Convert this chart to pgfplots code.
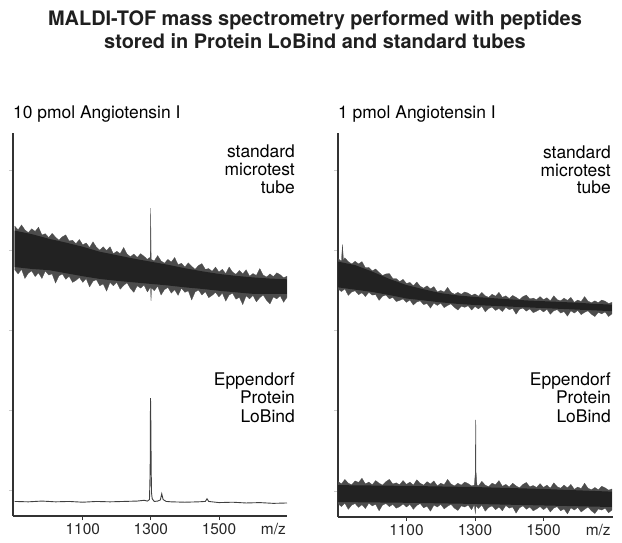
\documentclass[border=0pt]{standalone}
\usepackage{pgfplots}
\pgfplotsset{compat=1.18}
\usepackage{fontspec}
\setmainfont{TeX Gyre Heros}
\definecolor{fuzz}{HTML}{4C4C4C}
\definecolor{core}{HTML}{222222}
\definecolor{axl}{HTML}{333333}
\pgfplotsset{
  spec/.style={
    scale only axis, anchor=south west,
    ymin=0, ymax=100,
    axis lines*=left,
    axis line style={line width=1.1pt, axl},
    no markers,
    xtick={1100,1300,1500},
    xticklabels={1100,1300,1500},
    extra x ticks={1660},
    extra x tick labels={m/z},
    extra x tick style={major tick style={draw=none}},
    ytick={6.8,27.7,48.6,69.5,90.3},
    yticklabels={},
    tick align=outside,
    major tick length=4bp,
    x tick style={axl, line width=0.8pt},
    y tick style={black!20, line width=0.6pt},
    x tick label style={font=\fontsize{15.5}{16}\selectfont, text=black!85},
    /pgf/number format/assume math mode=true,
    clip=false,
  }
}
\begin{document}
\begin{tikzpicture}
\useasboundingbox (0,0) rectangle (622bp,543bp);
% titles
\node[anchor=base, font=\bfseries\fontsize{20}{22}\selectfont, text=black!88] at (315bp,517bp) {MALDI-TOF mass spectrometry performed with peptides};
\node[anchor=base, font=\bfseries\fontsize{20}{22}\selectfont, text=black!88] at (315bp,494.5bp) {stored in Protein LoBind and standard tubes};
\node[anchor=base west, inner sep=0pt, font=\fontsize{17.5}{18}\selectfont] at (13bp,424.5bp) {10 pmol Angiotensin I};
\node[anchor=base west, inner sep=0pt, font=\fontsize{17.5}{18}\selectfont] at (338bp,424.5bp) {1 pmol Angiotensin I};
% ---------------- left panel ----------------
\begin{axis}[spec, at={(13bp,27bp)}, width=274bp, height=383bp, xmin=895, xmax=1700]
% standard tube: noise envelope
\addplot[fill=fuzz, draw=fuzz, line width=0.25pt] coordinates {
(900,75.7) (910,74.7) (920,76.0) (930,74.7) (940,74.0) (950,75.0) (960,74.3) (970,75.4) (980,73.4) (990,73.7)
(1000,72.7) (1010,73.8) (1020,72.8) (1030,72.0) (1040,72.9) (1050,73.4) (1060,71.8) (1070,72.0) (1080,71.1) (1090,72.2)
(1100,70.8) (1110,71.3) (1120,70.1) (1130,71.6) (1140,70.2) (1150,69.4) (1160,70.3) (1170,69.3) (1180,70.3) (1190,68.5)
(1200,69.1) (1210,68.5) (1220,70.1) (1230,68.4) (1240,67.7) (1250,68.4) (1260,67.5) (1270,68.5) (1280,67.8) (1290,67.0)
(1296,67.5) (1298,67.0) (1299.5,80.4) (1301,67.0)
(1310,66.6) (1320,68.0) (1330,66.6) (1340,66.0) (1350,67.0) (1360,66.3) (1370,67.5) (1380,65.6) (1390,66.0)
(1400,65.0) (1410,66.1) (1420,65.2) (1430,64.4) (1440,65.4) (1450,65.9) (1460,64.4) (1470,64.6) (1480,63.9) (1490,65.0)
(1500,63.7) (1510,64.4) (1520,63.3) (1530,65.0) (1540,63.7) (1550,63.1) (1560,64.1) (1570,63.2) (1580,64.3) (1590,62.6)
(1600,63.3) (1610,62.8) (1620,64.6) (1630,62.9) (1640,62.4) (1650,63.2) (1660,62.5) (1670,63.5) (1680,63.0) (1690,62.2) (1700,62.6)
(1700,57.1) (1690,55.8) (1680,57.5) (1670,56.7) (1660,57.2) (1650,55.4) (1640,56.3) (1630,57.7) (1620,57.0) (1610,55.9)
(1600,57.6) (1590,56.7) (1580,57.5) (1570,55.2) (1560,57.1) (1550,56.6) (1540,58.2) (1530,57.7) (1520,56.1) (1510,58.2)
(1500,57.2) (1490,58.4) (1480,57.6) (1470,57.0) (1460,58.6) (1450,57.7) (1440,59.0) (1430,58.5) (1420,56.4) (1410,58.8)
(1400,58.4) (1390,59.5) (1380,57.6) (1370,59.1) (1360,58.2) (1350,59.7) (1340,59.1) (1330,57.7) (1320,60.0) (1310,58.8)
(1302,59.6) (1300.5,56.2) (1299,59.8)
(1290,58.5) (1280,60.3) (1270,59.5) (1260,60.1) (1250,58.4) (1240,59.4) (1230,60.9) (1220,60.2) (1210,59.2) (1200,61.0)
(1190,60.1) (1180,61.0) (1170,58.7) (1160,60.6) (1150,60.1) (1140,61.7) (1130,61.3) (1120,59.8) (1110,62.0) (1100,61.0)
(1090,62.3) (1080,61.5) (1070,61.0) (1060,62.6) (1050,61.8) (1040,63.2) (1030,62.7) (1020,60.8) (1010,63.2) (1000,62.9)
(990,64.0) (980,62.0) (970,63.5) (960,62.5) (950,64.0) (940,63.4) (930,62.0) (920,64.4) (910,63.2) (900,64.3)
};
% standard tube: dense core
\addplot[fill=core, draw=none] coordinates {
(900,74.5) (950,73.6) (1000,72.4) (1050,71.4) (1100,70.3) (1150,69.0) (1200,68.1) (1250,67.2)
(1300,66.4) (1350,65.6) (1400,64.7) (1450,63.9) (1500,63.2) (1550,62.7) (1600,62.3) (1650,62.0) (1700,61.8)
(1700,58.0) (1650,58.0) (1600,58.0) (1550,58.4) (1500,58.8) (1450,59.3) (1400,59.7) (1350,60.2)
(1300,60.6) (1250,61.0) (1200,61.4) (1150,61.9) (1100,62.6) (1050,63.4) (1000,64.2) (950,64.5) (900,65.0)
};
% Protein LoBind
\addplot[black!75, line width=0.9pt] coordinates {
(900,3.8) (940,3.7) (980,3.9) (1020,3.7) (1060,3.8) (1100,3.6) (1140,3.8) (1180,3.7) (1220,3.8)
(1260,3.9) (1280,4.1) (1290,3.9) (1296,4.3) (1298,12) (1299,30.8) (1300,24) (1301,12) (1302,6)
(1304,4.5) (1310,3.8) (1320,3.9) (1328,4.2) (1332,5.8) (1336,4.3) (1345,3.8) (1360,3.7) (1400,3.6)
(1440,3.7) (1460,3.8) (1465,4.5) (1470,3.8) (1500,3.5) (1540,3.6) (1580,3.4) (1620,3.5) (1660,3.3) (1700,3.4)
};
\end{axis}
\node[anchor=base east, inner sep=0pt, font=\fontsize{17.5}{18}\selectfont] at (295bp,385bp) {standard};
\node[anchor=base east, inner sep=0pt, font=\fontsize{17.5}{18}\selectfont] at (295bp,367bp) {microtest};
\node[anchor=base east, inner sep=0pt, font=\fontsize{17.5}{18}\selectfont] at (295bp,349bp) {tube};
\node[anchor=base east, inner sep=0pt, font=\fontsize{17.5}{18}\selectfont] at (295bp,157.5bp) {Eppendorf};
\node[anchor=base east, inner sep=0pt, font=\fontsize{17.5}{18}\selectfont] at (295bp,139bp) {Protein};
\node[anchor=base east, inner sep=0pt, font=\fontsize{17.5}{18}\selectfont] at (295bp,120bp) {LoBind};
% ---------------- right panel ----------------
\begin{axis}[spec, at={(338bp,26bp)}, width=275bp, height=384bp, xmin=900, xmax=1703]
\addplot[fill=fuzz, draw=fuzz, line width=0.25pt] coordinates {
(900,67.3) (910,66.6) (913,71.0) (916,66.8) (920,67.5) (930,66.5) (940,65.9) (950,66.6) (960,65.9) (970,66.5) (980,64.9) (990,65.0)
(1000,64.1) (1010,64.6) (1020,63.7) (1030,62.9) (1040,63.3) (1050,63.4) (1060,62.1) (1070,62.1) (1080,61.3) (1090,61.9)
(1100,60.8) (1110,61.1) (1120,60.2) (1130,61.2) (1140,60.1) (1150,59.6) (1160,60.2) (1170,59.4) (1180,60.0) (1190,58.6)
(1200,59.0) (1210,58.6) (1220,59.8) (1230,58.5) (1240,58.0) (1250,58.5) (1260,58.0) (1270,58.6) (1280,58.3) (1290,57.7)
(1300,58.1) (1310,57.5) (1320,58.5) (1330,57.6) (1340,57.2) (1350,58.0) (1360,57.5) (1370,58.5) (1380,57.2) (1390,57.6)
(1400,56.9) (1410,57.7) (1420,57.2) (1430,56.6) (1440,57.4) (1450,57.8) (1460,56.8) (1470,57.0) (1480,56.6) (1490,57.4)
(1500,56.6) (1510,57.1) (1520,56.3) (1530,57.6) (1540,56.6) (1550,56.3) (1560,57.0) (1570,56.4) (1580,57.2) (1590,55.9)
(1600,56.5) (1610,56.1) (1620,57.4) (1630,56.2) (1640,55.8) (1650,56.3) (1660,55.8) (1670,56.5) (1680,56.2) (1690,55.6) (1700,55.9)
(1700,52.9) (1690,52.2) (1680,53.4) (1670,52.9) (1660,53.3) (1650,52.2) (1640,52.8) (1630,53.7) (1620,53.3) (1610,52.7)
(1600,53.8) (1590,53.1) (1580,53.7) (1570,52.3) (1560,53.5) (1550,53.1) (1540,54.0) (1530,53.7) (1520,52.8) (1510,54.1)
(1500,53.4) (1490,54.1) (1480,53.6) (1470,53.2) (1460,54.2) (1450,53.6) (1440,54.4) (1430,54.1) (1420,52.8) (1410,54.3)
(1400,54.0) (1390,54.6) (1380,53.5) (1370,54.3) (1360,53.8) (1350,54.7) (1340,54.3) (1330,53.4) (1320,54.9) (1310,54.2)
(1300,54.8) (1290,53.9) (1280,55.0) (1270,54.6) (1260,54.9) (1250,53.9) (1240,54.6) (1230,55.5) (1220,55.1) (1210,54.5)
(1200,55.7) (1190,55.1) (1180,55.7) (1170,54.4) (1160,55.6) (1150,55.3) (1140,56.3) (1130,56.0) (1120,55.2) (1110,56.5)
(1100,55.9) (1090,56.8) (1080,56.4) (1070,56.1) (1060,57.2) (1050,56.8) (1040,57.8) (1030,57.5) (1020,56.4) (1010,57.9)
(1000,57.8) (990,58.5) (980,57.4) (970,58.4) (960,57.9) (950,58.9) (940,58.6) (930,57.7) (920,59.4) (910,58.7) (900,59.4)
};
\addplot[fill=core, draw=none] coordinates {
(900,66.5) (950,65.6) (1000,63.9) (1050,62.0) (1100,60.4) (1150,59.3) (1200,58.3) (1250,57.7)
(1300,57.3) (1350,57.0) (1400,56.7) (1450,56.4) (1500,56.2) (1550,56.0) (1600,55.8) (1650,55.5) (1700,55.3)
(1700,53.6) (1650,53.8) (1600,54.0) (1550,54.2) (1500,54.4) (1450,54.6) (1400,54.8) (1350,55.0)
(1300,55.2) (1250,55.5) (1200,55.9) (1150,56.4) (1100,56.9) (1050,57.8) (1000,58.6) (950,59.2) (900,59.8)
};
% Protein LoBind (1 pmol)
\addplot[fill=fuzz, draw=fuzz, line width=0.25pt] coordinates {
(900,9.3) (910,8.6) (920,9.8) (930,8.8) (940,8.4) (950,9.4) (960,9.0) (970,10.1) (980,8.6) (990,9.1)
(1000,8.4) (1010,9.5) (1020,8.8) (1030,8.3) (1040,9.2) (1050,9.8) (1060,8.6) (1070,8.9) (1080,8.4) (1090,9.5)
(1100,8.5) (1110,9.1) (1120,8.3) (1130,9.7) (1140,8.8) (1150,8.3) (1160,9.2) (1170,8.6) (1180,9.4) (1190,8.1)
(1200,8.8) (1210,8.4) (1220,9.8) (1230,8.6) (1240,8.1) (1250,8.8) (1260,8.3) (1270,9.1) (1280,8.7) (1290,8.1)
(1298,8.3) (1300,10.5) (1302,12.5) (1304,10.0) (1306,8.3)
(1310,8.1) (1320,9.3) (1330,8.3) (1340,7.9) (1350,8.8) (1360,8.4) (1370,9.5) (1380,8.0) (1390,8.5)
(1400,7.8) (1410,8.8) (1420,8.1) (1430,7.6) (1440,8.5) (1450,9.0) (1460,7.9) (1470,8.2) (1480,7.7) (1490,8.7)
(1500,7.7) (1510,8.3) (1520,7.5) (1530,8.9) (1540,7.9) (1550,7.5) (1560,8.3) (1570,7.6) (1580,8.5) (1590,7.2)
(1600,7.8) (1610,7.4) (1620,8.8) (1630,7.5) (1640,7.1) (1650,7.7) (1660,7.1) (1670,8.0) (1680,7.6) (1690,7.0) (1700,7.3)
(1700,1.8) (1690,1.1) (1680,2.3) (1670,1.8) (1660,2.1) (1650,0.9) (1640,1.6) (1630,2.6) (1620,2.0) (1610,1.3)
(1600,2.5) (1590,1.8) (1580,2.4) (1570,0.8) (1560,2.1) (1550,1.6) (1540,2.7) (1530,2.3) (1520,1.3) (1510,2.6)
(1500,1.9) (1490,2.7) (1480,2.1) (1470,1.6) (1460,2.6) (1450,2.0) (1440,2.9) (1430,2.4) (1420,1.0) (1410,2.6)
(1400,2.3) (1390,3.0) (1380,1.6) (1370,2.6) (1360,1.9) (1350,2.9) (1340,2.5) (1330,1.5) (1320,3.1) (1310,2.2)
(1303,3.0) (1301,0.9) (1298,3.2)
(1290,1.9) (1280,3.1) (1270,2.6) (1260,2.9) (1250,1.7) (1240,2.3) (1230,3.3) (1220,2.8) (1210,2.1) (1200,3.3)
(1190,2.6) (1180,3.1) (1170,1.5) (1160,2.8) (1150,2.4) (1140,3.5) (1130,3.0) (1120,2.0) (1110,3.3) (1100,2.6)
(1090,3.4) (1080,2.7) (1070,2.3) (1060,3.3) (1050,2.7) (1040,3.5) (1030,3.1) (1020,1.6) (1010,3.3) (1000,2.9)
(990,3.6) (980,2.2) (970,3.2) (960,2.5) (950,3.5) (940,3.1) (930,2.0) (920,3.6) (910,2.7) (900,3.5)
};
\addplot[fill=core, draw=none] coordinates {
(900,8.3) (1000,8.2) (1100,8.1) (1200,7.95) (1300,7.8) (1400,7.55) (1500,7.3) (1600,6.95) (1700,6.6)
(1700,2.6) (1600,2.8) (1500,3.0) (1400,3.2) (1300,3.4) (1200,3.55) (1100,3.7) (1000,3.8) (900,3.9)
};
\addplot[black!70, line width=0.6pt] coordinates {(1301,8) (1302,25.3) (1303,8)};
\end{axis}
\node[anchor=base east, inner sep=0pt, font=\fontsize{17.5}{18}\selectfont] at (611bp,384bp) {standard};
\node[anchor=base east, inner sep=0pt, font=\fontsize{17.5}{18}\selectfont] at (611bp,366.5bp) {microtest};
\node[anchor=base east, inner sep=0pt, font=\fontsize{17.5}{18}\selectfont] at (611bp,349bp) {tube};
\node[anchor=base east, inner sep=0pt, font=\fontsize{17.5}{18}\selectfont] at (611bp,157.5bp) {Eppendorf};
\node[anchor=base east, inner sep=0pt, font=\fontsize{17.5}{18}\selectfont] at (611bp,139bp) {Protein};
\node[anchor=base east, inner sep=0pt, font=\fontsize{17.5}{18}\selectfont] at (611bp,120bp) {LoBind};
\end{tikzpicture}
\end{document}
